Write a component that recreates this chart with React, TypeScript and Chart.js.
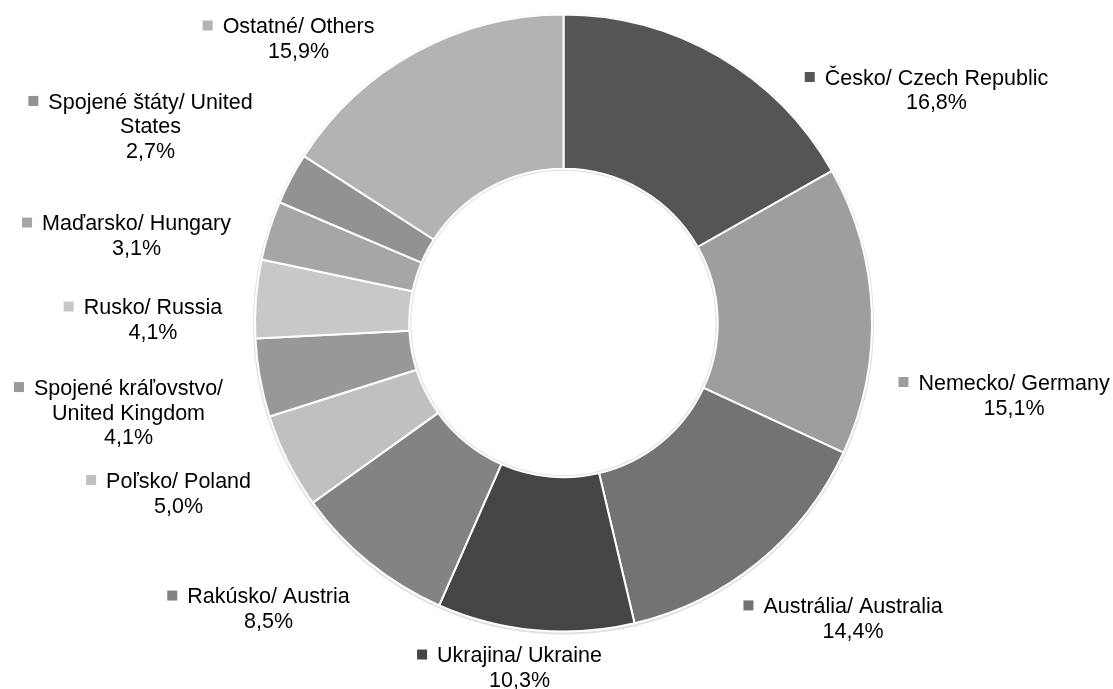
import React, { useEffect, useRef } from "react";
import { Chart, registerables } from "chart.js";

Chart.register(...registerables);

// ---- data ----
const categories: string[][] = [
  ["Česko/ Czech Republic"],
  ["Nemecko/ Germany"],
  ["Austrália/ Australia"],
  ["Ukrajina/ Ukraine"],
  ["Rakúsko/ Austria"],
  ["Poľsko/ Poland"],
  ["Spojené kráľovstvo/", "United Kingdom"],
  ["Rusko/ Russia"],
  ["Maďarsko/ Hungary"],
  ["Spojené štáty/ United", "States"],
  ["Ostatné/ Others"],
];
const shares: number[] = [16.8, 15.1, 14.4, 10.3, 8.5, 5.0, 4.1, 4.1, 3.1, 2.7, 15.9];
const sliceColors: string[] = [
  "#555555", "#9e9e9e", "#737373", "#454545", "#838383", "#c0c0c0",
  "#989898", "#c8c8c8", "#a6a6a6", "#929292", "#b3b3b3",
];

// ---- label layout: offset of each label's text block (first-line centre)
// from the mid point of its slice's outer edge ----
const labelOffsets: [number, number][] = [
  [217.6, 20.5],
  [142.3, 71.6],
  [94.4, 43.5],
  [-15.9, 24.3],
  [-100.6, 33],
  [-109.2, 18.7],
  [-131.4, 9.1],
  [-103, 7.7],
  [-132.7, -7.9],
  [-140.3, -77.7],
  [-117.2, -26.7],
];

const FONT_SIZE = 21.5;
const LINE_H = 24.8;
const FONT = `${FONT_SIZE}px "Liberation Sans", Arial, sans-serif`;

const fmt = (v: number) => v.toFixed(1).replace(".", ",") + "%";

const ringShadow = {
  id: "ringShadow",
  beforeDatasetsDraw(chart: any) {
    const meta = chart.getDatasetMeta(0);
    const a = meta.data[0];
    if (!a) return;
    const { x, y, outerRadius, innerRadius } = a.getProps(["x", "y", "outerRadius", "innerRadius"], true);
    const ctx = chart.ctx;
    ctx.save();
    ctx.strokeStyle = "rgba(0,0,0,0.12)";
    ctx.lineWidth = 2;
    ctx.beginPath();
    ctx.arc(x, y + 1, outerRadius + 1, 0, Math.PI * 2);
    ctx.stroke();
    ctx.beginPath();
    ctx.arc(x, y, innerRadius - 1, 0, Math.PI * 2);
    ctx.stroke();
    ctx.restore();
  },
};

const outsideLabels = {
  id: "outsideLabels",
  afterDraw(chart: any) {
    const meta = chart.getDatasetMeta(0);
    const ctx = chart.ctx;
    ctx.save();
    ctx.font = FONT;
    ctx.fillStyle = "#000000";
    ctx.textAlign = "center";
    ctx.textBaseline = "alphabetic";
    meta.data.forEach((arc: any, i: number) => {
      const { x, y, startAngle, endAngle, outerRadius } = arc.getProps(
        ["x", "y", "startAngle", "endAngle", "outerRadius"],
        true
      );
      const mid = (startAngle + endAngle) / 2;
      const ax = x + Math.cos(mid) * outerRadius;
      const ay = y + Math.sin(mid) * outerRadius;
      const [dx, dy] = labelOffsets[i];
      const cx = ax + dx;
      const cy = ay + dy;
      const lines = [...categories[i], fmt(shares[i])];
      const capOffset = FONT_SIZE * 0.358;
      lines.forEach((t, k) => {
        ctx.fillText(t, cx, cy + k * LINE_H + capOffset);
      });
      // marker before first line
      const w = ctx.measureText(lines[0]).width;
      const left = cx - w / 2;
      ctx.fillStyle = sliceColors[i];
      ctx.fillRect(left - 20, cy - 5, 10, 10);
      ctx.fillStyle = "#000000";
    });
    ctx.restore();
  },
};

export default function App() {
  const ref = useRef<HTMLCanvasElement | null>(null);
  useEffect(() => {
    if (!ref.current) return;
    const chart = new Chart(ref.current, {
      type: "doughnut",
      data: {
        labels: categories.map((c) => c.join(" ")),
        datasets: [
          {
            data: shares,
            backgroundColor: sliceColors,
            borderColor: "#ffffff",
            borderWidth: 2,
            hoverOffset: 0,
          },
        ],
      },
      options: {
        animation: false,
        responsive: true,
        maintainAspectRatio: false,
        cutout: "50%",
        layout: { padding: { left: 14, right: 0, top: 13.5, bottom: 56.5 } },
        plugins: {
          legend: { display: false },
          tooltip: { enabled: false },
        },
        events: [],
      },
      plugins: [ringShadow, outsideLabels],
    });
    return () => chart.destroy();
  }, []);
  return (
    <div
      style={{
        position: "fixed",
        left: 0,
        top: 0,
        width: "1113px",
        height: "689px",
        background: "#ffffff",
      }}
    >
      <canvas ref={ref} />
    </div>
  );
}
